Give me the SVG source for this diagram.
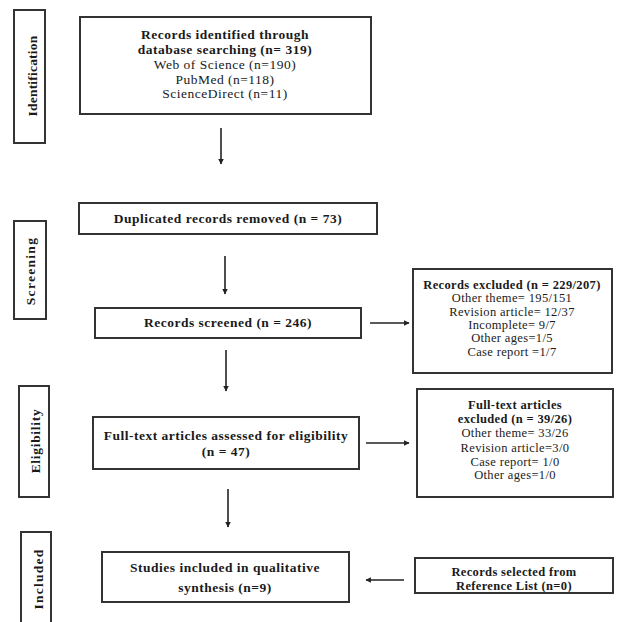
<svg xmlns="http://www.w3.org/2000/svg" width="617" height="622" viewBox="0 0 617 622">
<style>
.box{fill:#fff;stroke:#333;stroke-width:2}
.t{font-family:"Liberation Serif","Times New Roman",serif;font-size:13.5px;letter-spacing:0.5px;fill:#1a1a1a;text-anchor:middle}
.b{font-weight:bold}
.s{font-size:12.5px;letter-spacing:0.35px}
.side{font-family:"Liberation Serif","Times New Roman",serif;font-size:13.5px;font-weight:bold;fill:#1a1a1a;text-anchor:middle}
.c{stroke:#222;stroke-width:1.6;fill:none;marker-end:url(#ah)}
</style>
<defs>
<marker id="ah" viewBox="0 0 10 10" refX="9" refY="5" markerWidth="5.5" markerHeight="5.5" orient="auto" markerUnits="userSpaceOnUse"><path d="M0,0 L10,5 L0,10 z" fill="#222"/></marker>
</defs>
<rect width="617" height="622" fill="#fff"/>
<g id="stage-identification">
<rect class="box" x="14" y="10" width="31" height="133"/>
<text class="side" style="letter-spacing:0.2px" transform="translate(37,76) rotate(-90)">Identification</text>
</g>
<g id="stage-screening">
<rect class="box" x="14" y="221" width="32" height="98"/>
<text class="side" style="letter-spacing:1.3px" transform="translate(35,271) rotate(-90)">Screening</text>
</g>
<g id="stage-eligibility">
<rect class="box" x="19" y="386" width="30" height="111"/>
<text class="side" style="letter-spacing:0.7px" transform="translate(40,441) rotate(-90)">Eligibility</text>
</g>
<g id="stage-included">
<rect class="box" x="21" y="532" width="30" height="95"/>
<text class="side" style="letter-spacing:1.25px" transform="translate(43,579) rotate(-90)">Included</text>
</g>
<g id="identified">
<rect class="box" x="80" y="17" width="291" height="97"/>
<text class="t b" x="225" y="39">Records identified through</text>
<text class="t b" x="225" y="54">database searching (n= 319)</text>
<text class="t" x="225" y="69">Web of Science (n=190)</text>
<text class="t" x="225" y="84">PubMed (n=118)</text>
<text class="t" x="225" y="98">ScienceDirect (n=11)</text>
</g>
<g id="duplicates">
<rect class="box" x="79" y="203" width="298" height="31"/>
<text class="t b" x="228" y="223">Duplicated records removed (n = 73)</text>
</g>
<g id="screened">
<rect class="box" x="95" y="308" width="266" height="30"/>
<text class="t b" x="228" y="327">Records screened (n = 246)</text>
</g>
<g id="excluded">
<rect class="box" x="413" y="269" width="199" height="104"/>
<text class="t b s" x="512" y="289">Records excluded (n = 229/207)</text>
<text class="t s" x="512" y="302">Other theme= 195/151</text>
<text class="t s" x="512" y="316">Revision article= 12/37</text>
<text class="t s" x="512" y="329">Incomplete= 9/7</text>
<text class="t s" x="512" y="342">Other ages=1/5</text>
<text class="t s" x="512" y="356">Case report =1/7</text>
</g>
<g id="fulltext">
<rect class="box" x="93" y="417" width="266" height="52"/>
<text class="t b" x="226" y="440">Full-text articles assessed for eligibility</text>
<text class="t b" x="226" y="456">(n = 47)</text>
</g>
<g id="fulltext-excluded">
<rect class="box" x="417" y="389" width="196" height="108"/>
<text class="t b s" x="515" y="409">Full-text articles</text>
<text class="t b s" x="515" y="423">excluded (n = 39/26)</text>
<text class="t s" x="515" y="437">Other theme= 33/26</text>
<text class="t s" x="515" y="452">Revision article=3/0</text>
<text class="t s" x="515" y="466">Case report= 1/0</text>
<text class="t s" x="515" y="479">Other ages=1/0</text>
</g>
<g id="included">
<rect class="box" x="102" y="552" width="247" height="50"/>
<text class="t b" x="225" y="572">Studies included in qualitative</text>
<text class="t b" x="225" y="592">synthesis (n=9)</text>
</g>
<g id="reference">
<rect class="box" x="415" y="558" width="198" height="35"/>
<text class="t b s" x="514" y="576">Records selected from</text>
<text class="t b s" x="514" y="590">Reference List (n=0)</text>
</g>
<g id="connectors">
<line class="c" x1="221" y1="128" x2="221" y2="164"/>
<line class="c" x1="225" y1="256" x2="225" y2="294"/>
<line class="c" x1="370" y1="323" x2="409" y2="323"/>
<line class="c" x1="226" y1="350" x2="226" y2="391"/>
<line class="c" x1="366" y1="443" x2="409" y2="443"/>
<line class="c" x1="228" y1="489" x2="228" y2="527"/>
<line class="c" x1="404" y1="580" x2="366" y2="580"/>
</g>
</svg>
